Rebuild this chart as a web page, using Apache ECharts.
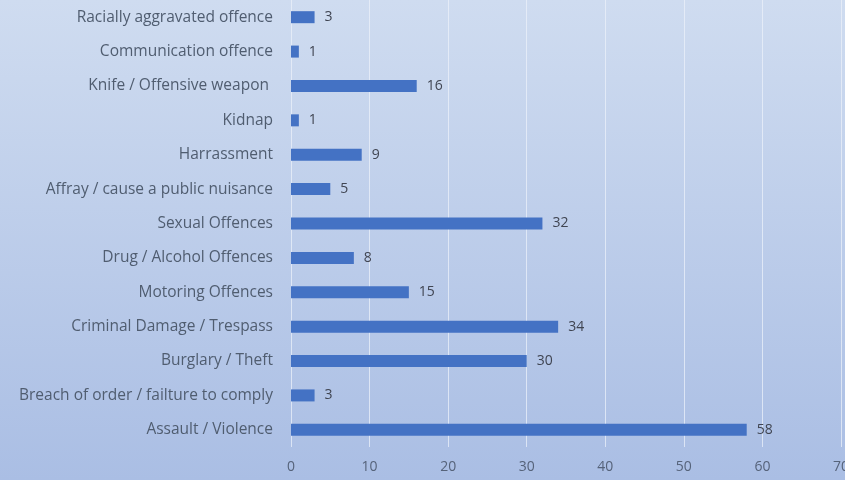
<!DOCTYPE html>
<html>
<head>
<meta charset="utf-8">
<script src="https://cdn.jsdelivr.net/npm/echarts@6/dist/echarts.min.js"></script>
<style>
  html, body { margin: 0; padding: 0; overflow: hidden; }
  /* a bit wider than the window so the last tick label gets clipped like the original */
  #chart { width: 860px; height: 480px; }
</style>
</head>
<body>
<div id="chart"></div>
<script>
// categories listed bottom -> top (ECharts draws the first category at the bottom)
const offences = [
  'Assault / Violence',
  'Breach of order / failture to comply',
  'Burglary / Theft',
  'Criminal Damage / Trespass',
  'Motoring Offences',
  'Drug / Alcohol Offences',
  'Sexual Offences',
  'Affray / cause a public nuisance',
  'Harrassment',
  'Kidnap',
  'Knife / Offensive weapon ',
  'Communication offence',
  'Racially aggravated offence'
]
const counts = [58, 3, 30, 34, 15, 8, 32, 5, 9, 1, 16, 1, 3]
const tickMax = 70
const tickStep = 10

const chart = echarts.init(document.getElementById('chart'))
chart.setOption({
  animation: false,
  backgroundColor: {
    type: 'linear', x: 0, y: 0, x2: 0, y2: 1,
    colorStops: [
      { offset: 0, color: '#cfdcf0' },
      { offset: 1, color: '#aabee4' }
    ]
  },
  textStyle: { fontFamily: 'Open Sans', color: '#4d5a6e' },
  grid: {
    left: 291,
    right: 19,
    top: 0,
    bottom: 33,
    containLabel: false
  },
  xAxis: {
    type: 'value',
    min: 0,
    max: tickMax,
    interval: tickStep,
    axisLine: { show: false },
    axisTick: { show: false },
    axisLabel: { color: '#56637a', fontSize: 14, margin: 13 },
    splitLine: { lineStyle: { color: 'rgba(235,240,250,0.75)', width: 1 } }
  },
  yAxis: {
    type: 'category',
    data: offences,
    axisLine: { show: false },
    axisTick: { show: false },
    axisLabel: { color: '#505d70', fontSize: 15.5, margin: 18 }
  },
  series: [
    {
      type: 'bar',
      data: counts,
      barWidth: 12,
      itemStyle: { color: '#4472c4' },
      label: {
        show: true,
        position: 'right',
        distance: 10,
        color: '#404552',
        fontSize: 14
      }
    }
  ]
})
</script>
</body>
</html>
